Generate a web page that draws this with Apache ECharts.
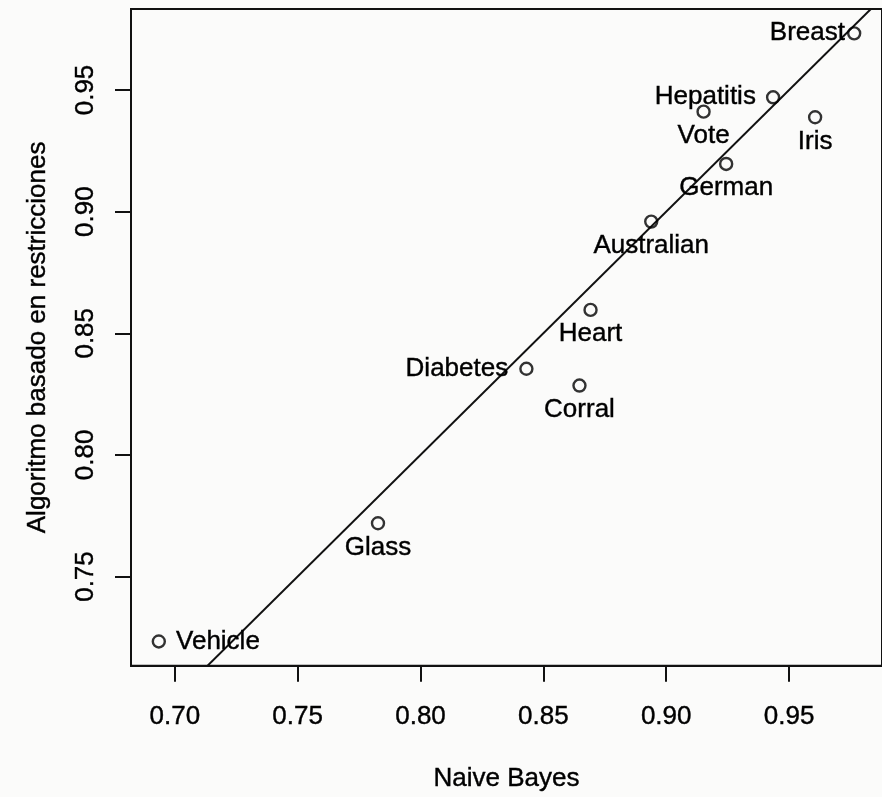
<!DOCTYPE html>
<html>
<head>
<meta charset="utf-8">
<script src="https://cdn.jsdelivr.net/npm/echarts@6/dist/echarts.min.js"></script>
<style>
  html, body { margin: 0; padding: 0; background: #fbfbfa; }
  #chart { width: 882px; height: 797px; }
</style>
</head>
<body>
<div id="chart"></div>
<script>
// Accuracy per dataset: Naive Bayes vs. constraint-based algorithm
const datasets = ['Breast', 'Hepatitis', 'Vote', 'Iris', 'German', 'Australian',
                  'Heart', 'Diabetes', 'Corral', 'Glass', 'Vehicle'];
const naiveBayes    = [0.9765, 0.9435, 0.9152, 0.9606, 0.9244, 0.8939,
                       0.8692, 0.8431, 0.8647, 0.7827, 0.6935];
const restricciones = [0.9733, 0.9470, 0.9411, 0.9388, 0.9196, 0.8959,
                       0.8596, 0.8354, 0.8285, 0.7719, 0.7233];
const xTicks = [0.70, 0.75, 0.80, 0.85, 0.90, 0.95];
const yTicks = [0.75, 0.80, 0.85, 0.90, 0.95];
// identity line y = x
const identity = [0.6, 1.0];

// where each name sits relative to its point
const labelPlacement = {
  Breast: ['left', 2], Hepatitis: ['left', 10], Diabetes: ['left', 11],
  Vehicle: ['right', 10]
};

const FONT = 'Liberation Sans, Arial, Helvetica, sans-serif';
const INK = '#000';
const FS = 26;
// slightly heavier strokes for all text
const TEXT = { fontFamily: FONT, fontSize: FS, color: INK, textBorderColor: INK, textBorderWidth: 0.4 };

// axis range padded 4% beyond the data, like base R graphics
function padded(vals) {
  const lo = Math.min(...vals), hi = Math.max(...vals), d = (hi - lo) * 0.04;
  return [lo - d, hi + d];
}
const [xMin, xMax] = padded(naiveBayes);
const [yMin, yMax] = padded(restricciones);

const points = datasets.map((name, i) => {
  const p = labelPlacement[name] || ['bottom', 4];
  return {
    name,
    value: [naiveBayes[i], restricciones[i]],
    label: { position: p[0], distance: p[1] }
  };
});

const chart = echarts.init(document.getElementById('chart'), null, { renderer: 'canvas' });
chart.setOption({
  backgroundColor: '#fbfbfa',
  animation: false,
  grid: {
    left: 131, top: 9, width: 756, height: 657,
    show: true, borderColor: '#111', borderWidth: 2, backgroundColor: 'transparent'
  },
  xAxis: {
    type: 'value', min: xMin, max: xMax,
    name: 'Naive Bayes', nameLocation: 'middle', nameGap: 100,
    nameTextStyle: TEXT,
    axisLine: { show: true, onZero: false, lineStyle: { color: '#111', width: 2 } },
    axisTick: { show: true, inside: false, length: 16, customValues: xTicks,
                lineStyle: { color: '#111', width: 2 } },
    axisLabel: Object.assign({ customValues: xTicks, margin: 38,
                               formatter: v => v.toFixed(2) }, TEXT),
    splitLine: { show: false }
  },
  yAxis: {
    type: 'value', min: yMin, max: yMax,
    name: 'Algoritmo basado en restricciones', nameLocation: 'middle', nameGap: 80,
    nameRotate: 90,
    nameTextStyle: TEXT,
    axisLine: { show: true, onZero: false, lineStyle: { color: '#111', width: 2 } },
    axisTick: { show: true, inside: false, length: 16, customValues: yTicks,
                lineStyle: { color: '#111', width: 2 } },
    axisLabel: Object.assign({ customValues: yTicks, rotate: 90, margin: 32,
                               formatter: v => v.toFixed(2) }, TEXT),
    splitLine: { show: false }
  },
  series: [
    {
      type: 'line',
      data: identity.map(v => [v, v]),
      showSymbol: false,
      clip: true,
      lineStyle: { color: '#111', width: 2 },
      silent: true,
      z: 2
    },
    {
      type: 'scatter',
      data: points,
      symbol: 'circle',
      symbolSize: 12,
      itemStyle: { color: 'rgba(0,0,0,0)', borderColor: '#000', borderWidth: 2.4 },
      label: Object.assign({ show: true, opacity: 1, formatter: p => p.name }, TEXT),
      z: 3
    }
  ]
});
</script>
</body>
</html>
